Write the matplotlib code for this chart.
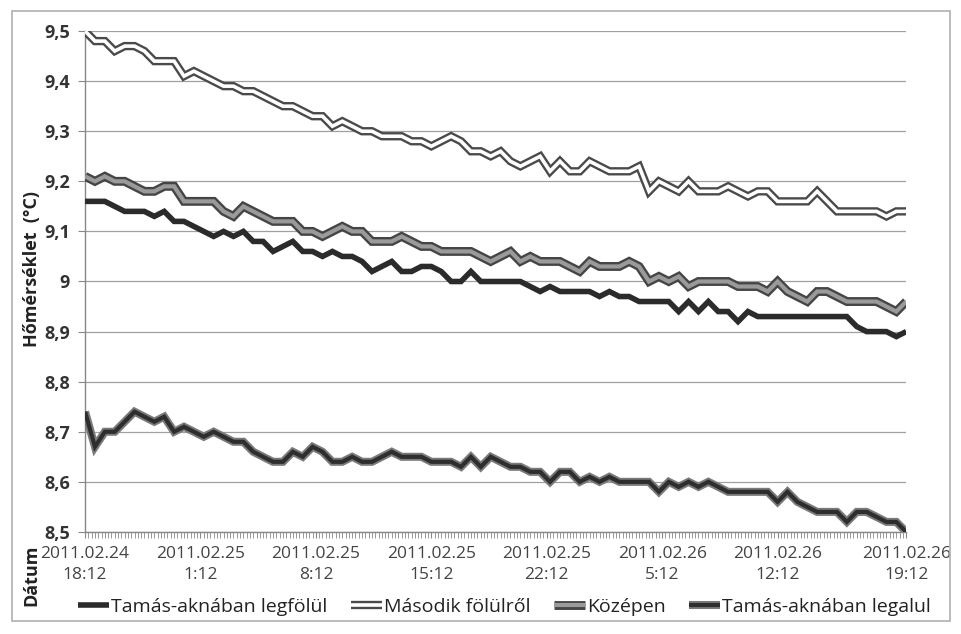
import numpy as np
import matplotlib
matplotlib.use("Agg")
import matplotlib.pyplot as plt
from matplotlib.lines import Line2D
from matplotlib.legend_handler import HandlerTuple
from matplotlib.ticker import FuncFormatter, FixedLocator
from matplotlib.patches import Rectangle

series_names = ["Tamás-aknában legfölül", "Második fölülről", "Középen", "Tamás-aknában legalul"]

legfolul = [9.16, 9.16, 9.16, 9.15, 9.14, 9.14, 9.14, 9.13, 9.14, 9.12,
            9.12, 9.11, 9.10, 9.09, 9.10, 9.09, 9.10, 9.08, 9.08, 9.06,
            9.07, 9.08, 9.06, 9.06, 9.05, 9.06, 9.05, 9.05, 9.04, 9.02,
            9.03, 9.04, 9.02, 9.02, 9.03, 9.03, 9.02, 9.00, 9.00, 9.02,
            9.00, 9.00, 9.00, 9.00, 9.00, 8.99, 8.98, 8.99, 8.98, 8.98,
            8.98, 8.98, 8.97, 8.98, 8.97, 8.97, 8.96, 8.96, 8.96, 8.96,
            8.94, 8.96, 8.94, 8.96, 8.94, 8.94, 8.92, 8.94, 8.93, 8.93,
            8.93, 8.93, 8.93, 8.93, 8.93, 8.93, 8.93, 8.93, 8.91, 8.90,
            8.90, 8.90, 8.89, 8.90]

masodik = [9.50, 9.48, 9.48, 9.46, 9.47, 9.47, 9.46, 9.44, 9.44, 9.44,
           9.41, 9.42, 9.41, 9.40, 9.39, 9.39, 9.38, 9.38, 9.37, 9.36,
           9.35, 9.35, 9.34, 9.33, 9.33, 9.31, 9.32, 9.31, 9.30, 9.30,
           9.29, 9.29, 9.29, 9.28, 9.28, 9.27, 9.28, 9.29, 9.28, 9.26,
           9.26, 9.25, 9.26, 9.24, 9.23, 9.24, 9.25, 9.22, 9.24, 9.22,
           9.22, 9.24, 9.23, 9.22, 9.22, 9.22, 9.23, 9.18, 9.20, 9.19,
           9.18, 9.20, 9.18, 9.18, 9.18, 9.19, 9.18, 9.17, 9.18, 9.18,
           9.16, 9.16, 9.16, 9.16, 9.18, 9.16, 9.14, 9.14, 9.14, 9.14,
           9.14, 9.13, 9.14, 9.14]

kozepen = [9.21, 9.20, 9.21, 9.20, 9.20, 9.19, 9.18, 9.18, 9.19, 9.19,
           9.16, 9.16, 9.16, 9.16, 9.14, 9.13, 9.15, 9.14, 9.13, 9.12,
           9.12, 9.12, 9.10, 9.10, 9.09, 9.10, 9.11, 9.10, 9.10, 9.08,
           9.08, 9.08, 9.09, 9.08, 9.07, 9.07, 9.06, 9.06, 9.06, 9.06,
           9.05, 9.04, 9.05, 9.06, 9.04, 9.05, 9.04, 9.04, 9.04, 9.03,
           9.02, 9.04, 9.03, 9.03, 9.03, 9.04, 9.03, 9.00, 9.01, 9.00,
           9.01, 8.99, 9.00, 9.00, 9.00, 9.00, 8.99, 8.99, 8.99, 8.98,
           9.00, 8.98, 8.97, 8.96, 8.98, 8.98, 8.97, 8.96, 8.96, 8.96,
           8.96, 8.95, 8.94, 8.96]

legalul = [8.74, 8.67, 8.70, 8.70, 8.72, 8.74, 8.73, 8.72, 8.73, 8.70,
           8.71, 8.70, 8.69, 8.70, 8.69, 8.68, 8.68, 8.66, 8.65, 8.64,
           8.64, 8.66, 8.65, 8.67, 8.66, 8.64, 8.64, 8.65, 8.64, 8.64,
           8.65, 8.66, 8.65, 8.65, 8.65, 8.64, 8.64, 8.64, 8.63, 8.65,
           8.63, 8.65, 8.64, 8.63, 8.63, 8.62, 8.62, 8.60, 8.62, 8.62,
           8.60, 8.61, 8.60, 8.61, 8.60, 8.60, 8.60, 8.60, 8.58, 8.60,
           8.59, 8.60, 8.59, 8.60, 8.59, 8.58, 8.58, 8.58, 8.58, 8.58,
           8.56, 8.58, 8.56, 8.55, 8.54, 8.54, 8.54, 8.52, 8.54, 8.54,
           8.53, 8.52, 8.52, 8.50]

x_tick_labels = ["2011.02.24\n18:12", "2011.02.25\n1:12", "2011.02.25\n8:12",
                 "2011.02.25\n15:12", "2011.02.25\n22:12", "2011.02.26\n5:12",
                 "2011.02.26\n12:12", "2011.02.26\n19:12"]
y_label = "Hőmérséklet  (°C)"
x_label = "Dátum"

# ---------------- figure ----------------
FONT = ["Open Sans", "DejaVu Sans"]
plt.rcParams["font.family"] = FONT

fig = plt.figure(figsize=(9.61, 6.34), dpi=100)
fig.patch.set_facecolor("white")
ax = fig.add_axes([0.0885, 0.161, 0.8545, 0.790])

n = len(masodik)
step_h = 0.6                         # hours between samples
hours = np.arange(n) * step_h

# series styles: list of (color, lw) layers, bottom to top
styles = [
    [("#2b2b2b", 4.0)],
    [("#4a4a4a", 6.0), ("#ffffff", 2.6)],
    [("#454545", 6.4), ("#9a9a9a", 3.0)],
    [("#7a7a7a", 5.8), ("#2e2e2e", 3.0)],
]
data = [legfolul, masodik, kozepen, legalul]

handles = []
for vals, layers in zip(data, styles):
    hs = []
    for c, lw in layers:
        ax.plot(hours, vals, color=c, lw=lw, solid_joinstyle="miter",
                solid_capstyle="butt", zorder=3)
        hs.append(Line2D([], [], color=c, lw=lw, solid_capstyle="butt"))
    handles.append(tuple(hs))

ax.set_xlim(0, hours[-1])
ax.set_ylim(8.5, 9.5)

# y axis
ax.set_yticks(np.round(np.arange(8.5, 9.501, 0.1), 1))
def yfmt(v, pos):
    s = f"{v:.1f}".replace(".", ",")
    return s[:-2] if s.endswith(",0") else s
ax.yaxis.set_major_formatter(FuncFormatter(yfmt))
ax.grid(axis="y", color="#a0a0a0", lw=0.9)
ax.set_axisbelow(True)
ax.tick_params(axis="y", length=5, color="#888888", labelsize=13,
               labelcolor="#333333", pad=6)
for lab in ax.get_yticklabels():
    lab.set_fontweight("bold")

# x axis
major_pos = list(np.arange(0, 43, 7)) + [hours[-1]]
ax.xaxis.set_major_locator(FixedLocator(major_pos))
ax.set_xticklabels(x_tick_labels, linespacing=1.45)
ax.xaxis.set_minor_locator(FixedLocator(np.arange(0, hours[-1] + 0.01, 0.2)))
ax.tick_params(axis="x", which="both", length=4, color="#888888",
               direction="out")
ax.tick_params(axis="x", which="major", labelsize=12.5, labelcolor="#444444", pad=6)

for s in ["top", "right"]:
    ax.spines[s].set_visible(False)
for s in ["left", "bottom"]:
    ax.spines[s].set_color("#888888")
    ax.spines[s].set_linewidth(1.0)

# axis titles
fig.text(0.033, 0.575, y_label, rotation=90, fontsize=13, fontweight="bold",
         ha="center", va="center", color="#222222")
fig.text(0.033, 0.093, x_label, rotation=90, fontsize=13, fontweight="bold",
         ha="center", va="center", color="#222222")

# legend
leg = fig.legend(handles, series_names, loc="center", bbox_to_anchor=(0.525, 0.043),
                 ncol=4, frameon=False, fontsize=14, handlelength=1.6,
                 handletextpad=0.1, columnspacing=1.2,
                 handler_map={tuple: HandlerTuple(ndivide=1)})
for t in leg.get_texts():
    t.set_color("#222222")

# outer chart border
fig.patches.append(Rectangle((0.013, 0.02), 0.976, 0.962, transform=fig.transFigure,
                             fill=False, edgecolor="#b0b0b0", lw=1.2))

fig.savefig("out.png", dpi=100, facecolor="white")
